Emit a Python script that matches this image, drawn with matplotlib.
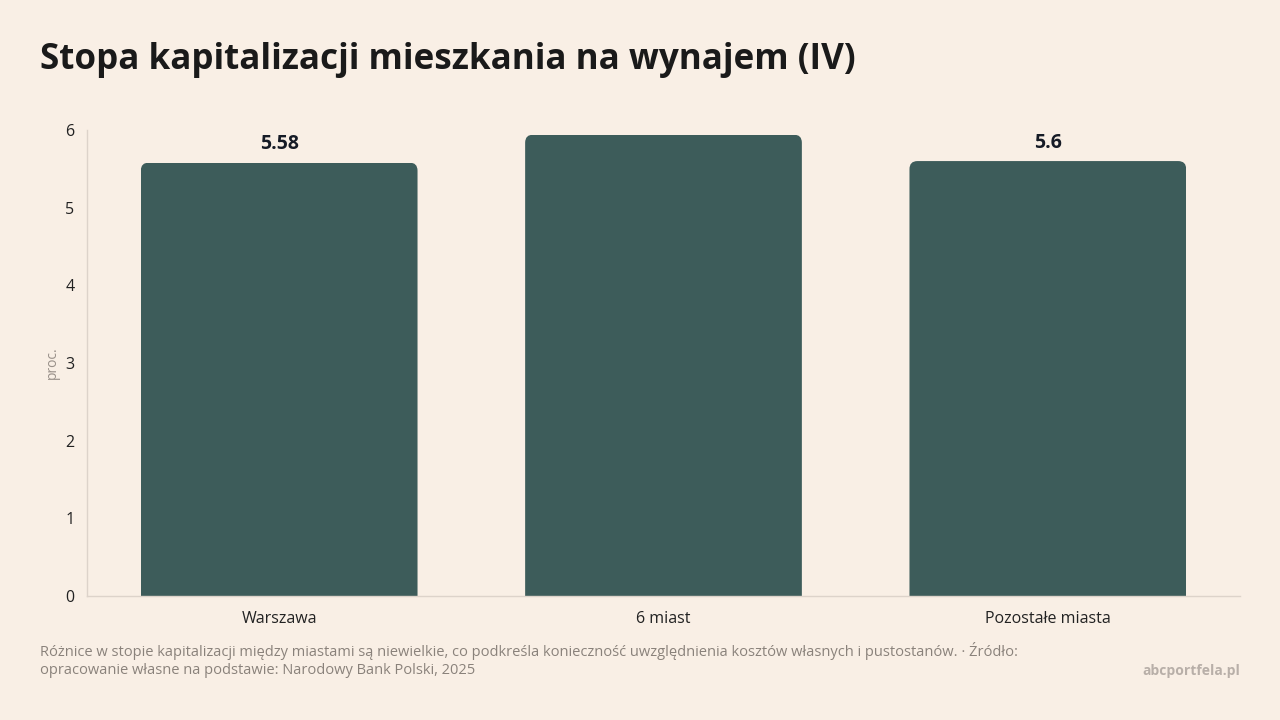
import matplotlib
matplotlib.use("Agg")
import matplotlib.pyplot as plt
from matplotlib.patches import FancyBboxPatch
from matplotlib.transforms import Bbox

plt.rcParams['font.family'] = ['Open Sans', 'Noto Sans', 'DejaVu Sans']

categories = ["Warszawa", "6 miast", "Pozostałe miasta"]
values = [5.58, 5.94, 5.6]
value_labels = ["5.58", "5.94", "5.6"]
yticks = [0, 1, 2, 3, 4, 5, 6]

BG = "#f9efe5"
BAR = "#3d5c5a"

fig = plt.figure(figsize=(12.8, 7.2), dpi=100, facecolor=BG)
ax = fig.add_axes([87/1280, 1 - 596/720, (1240-87)/1280, (596-130)/720])
ax.set_facecolor(BG)

x = list(range(len(categories)))
width = 0.72
bars = ax.bar(x, values, width=width, color=BAR, zorder=2)
ax.set_xlim(-0.5, len(categories) - 0.5)
ax.set_ylim(0, 6)

# rounded top corners via clip path
px_x = (1240 - 87) / 3.0
px_y = (596 - 130) / 6.0
r = 8 / px_x
asp = px_x / px_y
for b in bars:
    x0, w, h = b.get_x(), b.get_width(), b.get_height()
    clip = FancyBboxPatch((x0, -1), w, h + 1,
                          boxstyle=f"round,pad=0,rounding_size={r}",
                          mutation_aspect=asp, transform=ax.transData)
    b.set_clip_path(clip)

for xi, v, lab in zip(x, values, value_labels):
    t = ax.annotate(lab, (xi, v), xytext=(0, 6), textcoords="offset points",
                    ha="center", va="bottom", fontsize=14, fontweight="bold",
                    color="#161b26", annotation_clip=False)
    t.set_clip_on(True)
    t.set_clip_box(Bbox([[0, 0], [1280, 720 - 120.5]]))

ax.set_xticks(x)
ax.set_xticklabels(categories)
ax.set_yticks(yticks)
ax.tick_params(axis="both", length=0, labelsize=11.5, colors="#222222")
ax.tick_params(axis="x", pad=10.5)
ax.tick_params(axis="y", pad=9)
for s in ["top", "right"]:
    ax.spines[s].set_visible(False)
for s in ["left", "bottom"]:
    ax.spines[s].set_color("#ddd3ca")
    ax.spines[s].set_linewidth(1)
ax.set_ylabel("proc.", fontsize=10, color="#999089", labelpad=4)

fig.text(40/1280, 1 - 60/720, "Stopa kapitalizacji mieszkania na wynajem (IV)",
         fontsize=25.2, fontweight="bold", color="#1a1a1a", va="center", ha="left")
fig.text(40/1280, 1 - 651/720,
         "Różnice w stopie kapitalizacji między miastami są niewielkie, co podkreśla konieczność uwzględnienia kosztów własnych i pustostanów. · Źródło:",
         fontsize=10.5, color="#8a827b", va="center", ha="left")
fig.text(40/1280, 1 - 671/720,
         "opracowanie własne na podstawie: Narodowy Bank Polski, 2025",
         fontsize=10.5, color="#8a827b", va="center", ha="left")
fig.text(1240/1280, 1 - 671/720, "abcportfela.pl", fontsize=10, fontweight="bold",
         color="#b8afa8", va="center", ha="right")

fig.savefig("out.png", dpi=100, facecolor=BG)
